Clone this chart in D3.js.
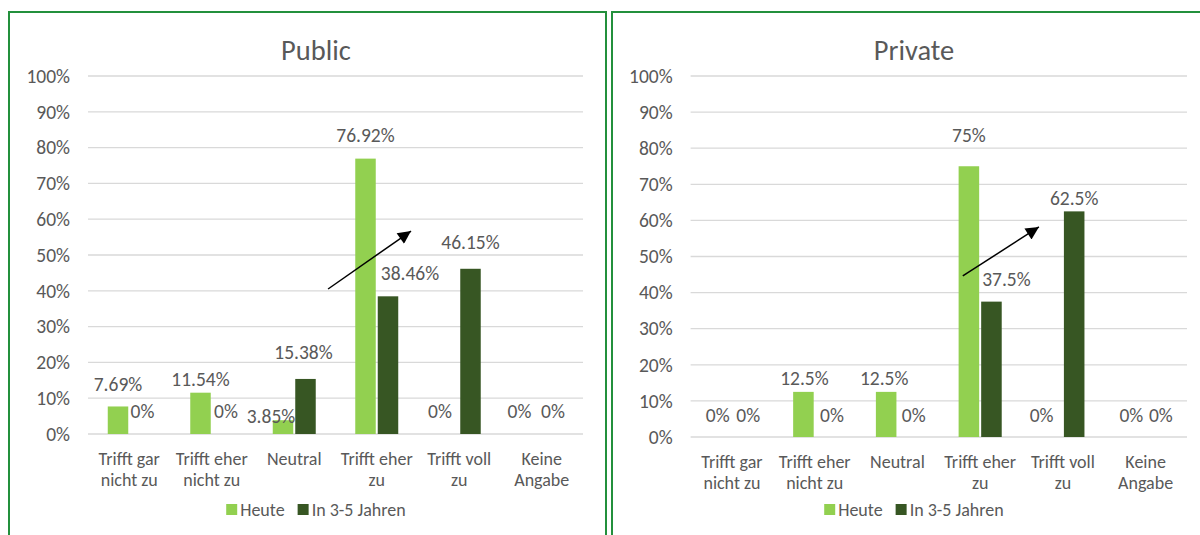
<!DOCTYPE html>
<html>
<head>
<meta charset="utf-8">
<script src="https://cdn.jsdelivr.net/npm/d3@7"></script>
<style>
  html, body { margin: 0; padding: 0; background: #ffffff; }
  svg { display: block; font-family: Carlito, Calibri, Lato, sans-serif; }
</style>
</head>
<body>
<svg id="chart" width="1200" height="535"></svg>
<script>
// ---- data ----
const categories = [
  "Trifft gar\nnicht zu",
  "Trifft eher\nnicht zu",
  "Neutral",
  "Trifft eher\nzu",
  "Trifft voll\nzu",
  "Keine\nAngabe"
];
const seriesNames = ["Heute", "In 3-5 Jahren"];
const yTicks = [0, 10, 20, 30, 40, 50, 60, 70, 80, 90, 100];

const publicHeute  = [7.69, 11.54, 3.85, 76.92, 0, 0];
const publicJahre  = [0, 0, 15.38, 38.46, 46.15, 0];
const privateHeute = [0, 12.5, 12.5, 75, 0, 0];
const privateJahre = [0, 0, 0, 37.5, 62.5, 0];

// trend arrows: [category position, percent]
const publicArrow  = { from: [2.41, 40.5], to: [3.415, 56.7] };
const privateArrow = { from: [2.79, 44.6], to: [3.71, 58.2] };

// ---- layout ----
const colors = { "Heute": "#92D050", "In 3-5 Jahren": "#375623" };
const textColor = "#595959";
const gridColor = "#D9D9D9";
const frameColor = "#23903C";
const fs = { title: 28.5, tick: 19.5, label: 19.5, cat: 18, legend: 18 };

const panels = [
  {
    title: "Public",
    values: [publicHeute, publicJahre],
    frame: { x: 9, y: 12, w: 597, h: 540 },
    plot: { x0: 88, x1: 583, yZero: 434, yTop: 76 },
    center: 316,
    // per-label nudges [dx, dy from bar top]
    nudge: [
      [[0, -15], [0, -7], [-12, 3], [0, -17], [-8, -16], [-11, -16]],
      [[2, -16], [3, -16], [-2, -20], [22, -16], [0, -20], [0, -16]]
    ],
    arrow: publicArrow
  },
  {
    title: "Private",
    values: [privateHeute, privateJahre],
    frame: { x: 612, y: 12, w: 620, h: 540 },
    plot: { x0: 690.6, x1: 1187, yZero: 437, yTop: 76 },
    center: 914,
    nudge: [
      [[-3, -15], [1, -7], [-2, -7], [0, -24], [-10, -15], [-3, -15]],
      [[5, -15], [6, -15], [5, -15], [15, -16], [0, -6], [4, -15]]
    ],
    arrow: privateArrow
  }
];

const svg = d3.select("#chart");

const defs = svg.append("defs");
defs.append("marker")
  .attr("id", "arrowHead")
  .attr("viewBox", "0 0 10 10")
  .attr("refX", 10).attr("refY", 5)
  .attr("markerUnits", "userSpaceOnUse")
  .attr("markerWidth", 16).attr("markerHeight", 13)
  .attr("orient", "auto")
  .append("path")
  .attr("d", "M0,0 L10,5 L0,10 Z")
  .attr("fill", "#000");

panels.forEach(p => {
  const g = svg.append("g");

  // frame
  g.append("rect")
    .attr("x", p.frame.x).attr("y", p.frame.y)
    .attr("width", p.frame.w).attr("height", p.frame.h)
    .attr("fill", "#fff")
    .attr("stroke", frameColor).attr("stroke-width", 2);

  const x = d3.scaleBand().domain(categories).range([p.plot.x0, p.plot.x1]).padding(0);
  const y = d3.scaleLinear().domain([0, 100]).range([p.plot.yZero, p.plot.yTop]);
  const groupW = x.bandwidth() * 0.521;
  const xs = d3.scaleBand().domain(seriesNames).range([-groupW / 2, groupW / 2]).paddingInner(0.089);
  const catPos = d3.scaleLinear().domain([0, 1])
    .range([x(categories[0]) + x.bandwidth() / 2, x(categories[1]) + x.bandwidth() / 2]);

  // title
  g.append("text")
    .attr("x", p.center).attr("y", 60)
    .attr("text-anchor", "middle")
    .attr("font-size", fs.title).attr("fill", textColor)
    .text(p.title);

  // gridlines
  g.append("g").selectAll("line").data(yTicks).join("line")
    .attr("x1", p.plot.x0).attr("x2", p.plot.x1)
    .attr("y1", d => y(d)).attr("y2", d => y(d))
    .attr("stroke", gridColor).attr("stroke-width", 1.3);

  // y axis labels
  const yAxis = g.append("g")
    .attr("transform", `translate(${p.plot.x0 - 18},0)`)
    .call(d3.axisLeft(y).tickValues(yTicks).tickSize(0).tickPadding(0).tickFormat(d => d + "%"));
  yAxis.select(".domain").remove();
  yAxis.selectAll("text")
    .attr("font-size", fs.tick).attr("fill", textColor)
    .attr("font-family", "Carlito, Calibri, Lato, sans-serif");

  // bars and value labels
  seriesNames.forEach((s, si) => {
    const vals = p.values[si];
    g.append("g").selectAll("rect").data(vals).join("rect")
      .attr("x", (d, i) => x(categories[i]) + x.bandwidth() / 2 + xs(s))
      .attr("width", xs.bandwidth())
      .attr("y", d => y(d))
      .attr("height", d => y(0) - y(d))
      .attr("fill", colors[s]);

    g.append("g").selectAll("text").data(vals).join("text")
      .attr("x", (d, i) => x(categories[i]) + x.bandwidth() / 2 + xs(s) + xs.bandwidth() / 2 + p.nudge[si][i][0])
      .attr("y", (d, i) => y(d) + p.nudge[si][i][1])
      .attr("text-anchor", "middle")
      .attr("font-size", fs.label).attr("fill", textColor)
      .text(d => d + "%");
  });

  // category labels
  const xAxis = g.append("g");
  categories.forEach(c => {
    const t = xAxis.append("text")
      .attr("x", x(c) + x.bandwidth() / 2)
      .attr("y", p.plot.yZero + 31)
      .attr("text-anchor", "middle")
      .attr("font-size", fs.cat).attr("fill", textColor);
    c.split("\n").forEach((line, li) => {
      t.append("tspan")
        .attr("x", x(c) + x.bandwidth() / 2)
        .attr("dy", li === 0 ? 0 : 21)
        .text(line);
    });
  });

  // trend arrow
  g.append("line")
    .attr("x1", catPos(p.arrow.from[0])).attr("y1", y(p.arrow.from[1]))
    .attr("x2", catPos(p.arrow.to[0])).attr("y2", y(p.arrow.to[1]))
    .attr("stroke", "#000").attr("stroke-width", 1.5)
    .attr("marker-end", "url(#arrowHead)");

  // legend
  const leg = g.append("g");
  const items = [];
  seriesNames.forEach(s => {
    const it = leg.append("g");
    it.append("rect").attr("x", 0).attr("y", -12).attr("width", 11).attr("height", 11)
      .attr("fill", colors[s]);
    const tx = it.append("text").attr("x", 14).attr("y", 0)
      .attr("font-size", fs.legend).attr("fill", textColor).text(s);
    items.push({ it, w: 14 + tx.node().getComputedTextLength() });
  });
  const gap = 13;
  const total = d3.sum(items, d => d.w) + gap * (items.length - 1);
  let cursor = p.center - total / 2;
  items.forEach(d => {
    d.it.attr("transform", `translate(${cursor},516)`);
    cursor += d.w + gap;
  });
});
</script>
</body>
</html>
